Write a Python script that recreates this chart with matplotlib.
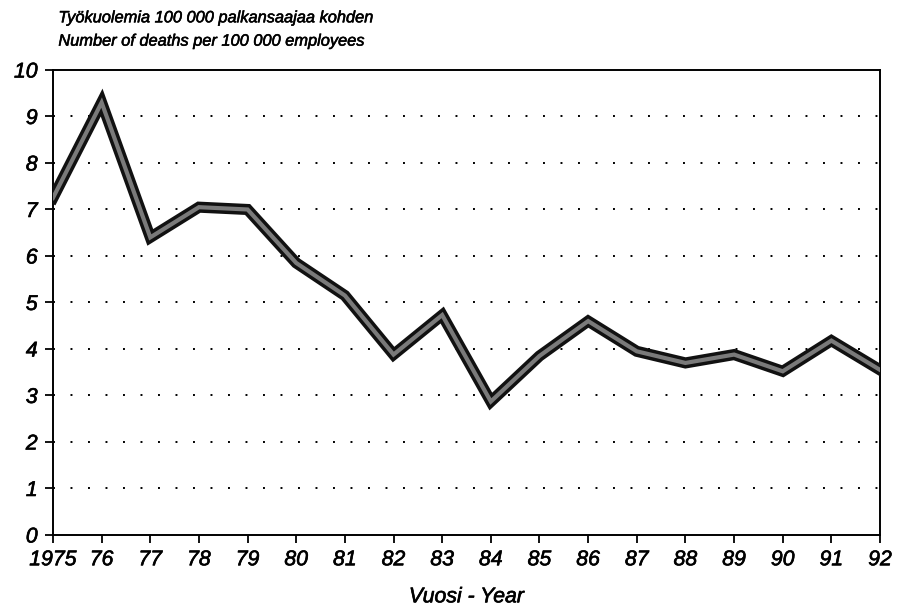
import matplotlib
matplotlib.use("Agg")
import matplotlib.pyplot as plt
import matplotlib.patheffects as pe

# Työkuolemat / occupational deaths per 100 000 employees
years = list(range(1975, 1993))
deaths = [7.25, 9.3, 6.4, 7.05, 7.0, 5.85, 5.15, 3.88, 4.73, 2.87,
          3.85, 4.6, 3.95, 3.7, 3.88, 3.52, 4.18, 3.55]
xtick_labels = ["1975"] + [str(y % 100) for y in years[1:]]
yticks = list(range(0, 11))

plt.rcParams['font.family'] = ['Liberation Sans', 'DejaVu Sans']
heavy = [pe.withStroke(linewidth=0.45, foreground='black')]

fig = plt.figure(figsize=(8.98, 6.14), dpi=100)
ax = fig.add_axes([0.059, 0.1287, 0.921, 0.7573])

# thick grey line with dark outline
ax.plot(years, deaths, color='#111111', linewidth=8, solid_joinstyle='miter', zorder=3)
ax.plot(years, deaths, color='#7a7a7a', linewidth=3, solid_joinstyle='miter', zorder=4)

for v in yticks[1:-1]:
    ax.axhline(v, color='black', linestyle=(0, (1, 8)), linewidth=1.4, zorder=1)

ax.set_xlim(1975, 1992)
ax.set_ylim(0, 10)
ax.set_xticks(years)
ax.set_xticklabels(xtick_labels, fontsize=15.3, style='italic')
ax.set_yticks(yticks)
ax.set_yticklabels([str(v) for v in yticks], fontsize=15.3, style='italic')
ax.tick_params(axis='both', direction='out', length=6, width=1.3, pad=5)
for lbl in ax.get_xticklabels() + ax.get_yticklabels():
    lbl.set_path_effects(heavy)

for s in ax.spines.values():
    s.set_linewidth(1.4)

xl = ax.set_xlabel("Vuosi - Year", fontsize=15.3, style='italic', labelpad=13)
xl.set_path_effects(heavy)

t1 = fig.text(0.065, 0.971, "Työkuolemia 100 000 palkansaajaa kohden",
              fontsize=11.8, style='italic', va='center')
t2 = fig.text(0.065, 0.933, "Number of deaths per 100 000 employees",
              fontsize=11.8, style='italic', va='center')
for t in (t1, t2):
    t.set_path_effects([pe.withStroke(linewidth=0.4, foreground='black')])

fig.savefig("out.png", dpi=100)
